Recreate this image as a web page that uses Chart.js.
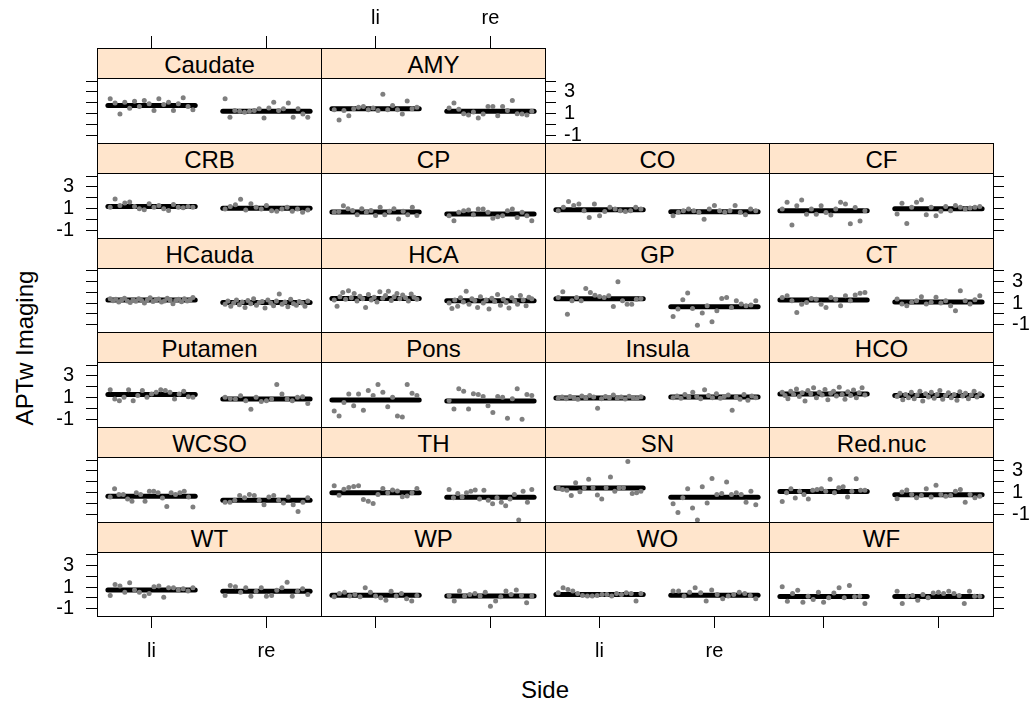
<!DOCTYPE html>
<html>
<head>
<meta charset="utf-8">
<script src="https://cdn.jsdelivr.net/npm/chart.js@4.4.1/dist/chart.umd.min.js"></script>
<style>
  body { margin: 0; width: 1036px; height: 707px; background: #fff; position: relative; overflow: hidden; font-family: "Liberation Sans", Arial, sans-serif; }
  canvas { position: absolute; }
  .strip { position: absolute; box-sizing: border-box; background: #ffe5cc; border: 1px solid #000; text-align: center; font-size: 24px; line-height: 31px; color: #000; z-index: 2; white-space: nowrap; }
  .title { position: absolute; font-size: 24px; line-height: 28px; color: #000; text-align: center; }
</style>
</head>
<body>
<div class="title" style="left:0; width:1090px; top:676px;">Side</div>
<div class="title" style="left:-125px; top:334px; width:300px; transform: rotate(-90deg);">APTw Imaging</div>
<script>
const regions = ['Caudate', 'AMY', 'CRB', 'CP', 'CO', 'CF', 'HCauda', 'HCA', 'GP', 'CT',
  'Putamen', 'Pons', 'Insula', 'HCO', 'WCSO', 'TH', 'SN', 'Red.nuc', 'WT', 'WP', 'WO', 'WF'];
const sideLabels = ['li', 're'];
const xTickValues = [1, 2];
const yTickValues = [-1, 0, 1, 2, 3, 4];
const yTickLabels = ['-1', '', '1', '', '3', ''];

const liMeans = [1.75, 1.44, 1.2, 0.7, 0.9, 0.8, 1.28, 1.44, 1.4, 1.28, 1.28, 0.78, 0.97, 1.34, 0.67, 1.0, 1.42, 1.1, 0.72, 0.25, 0.31, 0.12];
const reMeans = [1.22, 1.22, 1.03, 0.5, 0.72, 1.0, 1.06, 1.22, 0.66, 1.1, 0.87, 0.7, 1.06, 1.2, 0.3, 0.58, 0.58, 0.8, 0.62, 0.16, 0.25, 0.12];

const liPoints = [
  [2.37, 1.97, 0.97, 2.06, 1.5, 2.15, 1.65, 2.22, 1.91, 1.28, 2.37, 1.85, 2.06, 1.28, 1.91, 2.47, 1.65, 1.35],
  [1.35, 0.41, 1.28, 0.81, 1.44, 1.6, 1.66, 1.35, 1.53, 1.28, 2.78, 1.35, 1.75, 1.35, 0.97, 2.17, 1.44, 1.6],
  [1.14, 1.89, 1.29, 1.51, 1.61, 1.2, 0.98, 0.89, 1.45, 1.14, 1.29, 0.98, 0.82, 1.39, 1.14, 1.08, 1.2, 1.14],
  [0.67, 0.73, 1.26, 0.98, 0.82, 0.45, 0.98, 0.67, 0.82, 0.36, 1.14, 0.45, 0.76, 0.98, 0.04, 0.76, 0.45, 1.14, 0.36],
  [0.81, 1.12, 1.65, 1.28, 1.43, 0.81, 0.18, 1.43, 0.34, 0.74, 1.12, 0.96, 0.81, 0.74, 0.81, 1.12, 0.96],
  [0.96, 1.58, -0.51, 1.27, 1.8, 0.49, 0.96, 0.49, 1.27, 0.64, 0.42, 0.96, 1.58, 1.42, -0.39, 1.11, -0.14, 0.8],
  [1.4, 1.22, 1.35, 1.1, 1.3, 1.45, 1.2, 1.05, 1.32, 1.18, 1.4, 1.25, 1.0, 1.3, 1.5, 1.15, 1.28, 1.38, 1.1, 1.2, 1.45, 1.3, 0.95, 1.25, 1.35, 1.12, 1.4, 1.2, 1.3, 1.52],
  [1.3, 0.7, 1.6, 2.0, 1.35, 2.15, 1.5, 1.9, 1.2, 1.65, 1.4, 0.6, 1.8, 1.3, 1.55, 1.1, 2.05, 1.45, 1.7, 2.1, 1.25, 1.6, 1.9, 1.4, 1.75, 1.5, 1.2, 1.85, 1.55, 1.35],
  [1.52, 2.06, -0.04, 1.21, 1.52, 1.21, 2.37, 1.99, 1.74, 1.62, 1.52, 1.68, 0.68, 3.0, 1.21, 0.9, 0.9, 1.37, 1.43],
  [1.53, 1.69, 1.22, 0.12, 0.9, 1.06, 1.44, 1.37, 0.9, 0.59, 1.53, 1.37, 0.75, 1.69, 1.22, 1.75, 1.91, 2.0],
  [1.72, 0.87, 0.72, 1.03, 1.72, 0.72, 1.19, 1.66, 1.03, 1.34, 1.5, 1.72, 1.66, 1.5, 0.87, 1.34, 1.59, 1.09, 1.03],
  [-0.22, -0.69, 0.56, 1.34, 0.25, 1.34, -0.16, 1.66, 1.19, 2.22, 1.5, 0.16, 1.03, -0.69, -0.78, 2.22, 1.4, 1.19],
  [0.95, 1.05, 0.9, 1.1, 1.0, 0.85, 1.15, 0.95, 1.2, 1.05, 0.03, 0.9, 1.1, 1.0, 1.25, 0.95, 1.05, 0.88, 1.12, 1.0, 0.92, 1.08],
  [1.5, 1.2, 0.9, 1.6, 1.3, 1.8, 1.1, 1.45, 0.7, 1.65, 1.35, 1.9, 1.0, 1.5, 1.25, 1.75, 0.8, 1.4, 1.6, 1.15, 1.95, 1.3, 0.85, 1.55, 1.2, 1.7, 1.0, 1.45, 1.9, 1.25],
  [0.61, 1.36, 0.83, 0.83, 0.42, 0.2, 0.98, 0.83, 0.2, 1.14, 1.14, 0.98, 0.51, -0.27, 0.98, 0.83, 0.98, 1.14, 0.61, -0.33],
  [1.63, 0.75, 1.31, 1.47, 1.56, 1.63, 0.38, 0.22, 0.0, 0.84, 1.38, 1.0, 1.25, 1.16, 0.63, 0.69, 1.0, 1.38],
  [1.45, 1.3, 1.23, 0.73, 1.92, 1.08, 1.45, 2.23, 1.45, 0.79, 0.42, 1.45, 2.45, 1.14, 1.45, 1.45, 3.86, 0.92, 0.98, 1.14],
  [0.19, 0.98, 1.35, 0.51, 1.13, 0.82, 0.41, 1.23, 1.29, 1.35, 1.13, 2.23, 0.98, 1.44, 1.54, 0.6, 1.13, 2.29, 1.23, 1.23],
  [0.22, 1.25, 1.1, 0.53, 1.41, 0.72, 0.53, 0.16, 0.41, 1.03, 1.1, 0.06, 0.94, 0.94, 0.72, 0.85, 0.63, 0.94],
  [0.09, 0.41, 0.53, 0.16, 0.31, 0.09, 0.94, 0.53, 0.16, 0.0, -0.22, 0.62, 0.16, 0.41, -0.09, -0.31, 0.22],
  [0.47, 0.94, 0.78, 0.63, 0.41, 0.22, 0.16, 0.16, 0.22, 0.31, 0.31, 0.16, 0.41, 0.31, 0.47, 0.41, -0.31, 0.41],
  [1.03, -0.32, 0.4, 0.71, -0.41, 0.15, -0.16, 0.53, -0.41, 0.0, 0.46, 0.93, 0.0, 1.15, 0.09, 0.15, -0.54]
];

const rePoints = [
  [2.37, 0.66, 1.28, 1.22, 1.13, 1.22, 1.28, 1.44, 0.6, 1.53, 2.06, 1.28, 1.44, 1.97, 0.66, 1.44, 0.97, 0.66],
  [1.53, 1.97, 1.41, 1.0, 0.88, 1.16, 0.6, 0.97, 1.66, 1.66, 0.81, 1.66, 1.28, 2.22, 1.0, 0.97, 0.88, 1.22],
  [0.97, 1.19, 1.37, 1.87, 0.87, 1.44, 1.12, 0.97, 1.28, 0.81, 0.75, 0.97, 1.12, 0.75, 0.97, 0.66, 0.87],
  [0.34, -0.12, 0.66, 0.81, 0.87, 0.44, 0.97, 0.97, 0.66, 0.12, 0.25, 0.34, 0.81, 0.97, 0.19, 0.66, 0.34, -0.12],
  [0.35, 0.66, 0.81, 0.97, 0.81, 0.66, 0.03, 0.97, 1.28, 0.81, 0.66, 0.81, 1.28, 0.66, 0.44, 0.97, 0.81],
  [0.5, 1.5, -0.37, 1.12, 1.6, 1.81, 0.44, 1.12, 0.34, 0.75, 1.19, 0.81, 1.28, 1.12, 0.97, 1.06, 1.12, 1.19],
  [0.9, 1.2, 0.7, 1.0, 1.3, 0.85, 1.1, 0.6, 1.25, 0.95, 1.4, 0.8, 1.05, 1.15, 0.55, 1.3, 1.0, 0.75, 1.2, 1.85, 0.9, 1.1, 0.65, 1.35, 0.95, 0.8, 1.15, 1.0, 0.7, 1.2],
  [1.0, 0.5, 1.3, 0.7, 1.5, 1.1, 2.1, 0.9, 1.4, 1.25, 0.6, 1.6, 1.0, 1.3, 0.45, 1.45, 1.15, 1.8, 0.8, 1.35, 1.05, 0.55, 1.5, 1.2, 0.9, 1.7, 1.3, 0.75, 1.55, 1.4],
  [-0.25, 0.44, 1.32, 1.94, 0.5, -1.06, 0.07, 0.75, -0.75, 0.28, 1.44, 1.53, 0.6, 1.22, 0.91, 0.75, 0.82, 1.22],
  [1.38, 0.91, 0.76, 1.07, 1.22, 1.6, 0.91, 1.07, 1.54, 1.0, 1.22, 0.76, 0.29, 2.16, 1.22, 0.91, 1.32, 1.69],
  [1.03, 0.93, 0.87, 1.18, 0.71, -0.07, 1.03, 0.65, 0.71, 0.87, 2.21, 1.34, 0.87, 0.71, 1.03, 1.09, 0.46],
  [0.73, -0.05, 1.82, 1.6, -0.05, 1.36, 1.29, 1.11, 0.26, -0.36, 1.11, 1.04, -0.89, 0.89, 1.82, -0.99, 1.29, 1.2],
  [1.0, 1.15, 0.95, 1.3, 1.05, 1.5, 1.1, 0.9, 1.72, 1.2, 1.0, 1.35, 0.95, 1.1, 1.25, -0.16, 1.05, 0.85, 1.3, 0.75, 1.15, 1.0],
  [1.1, 1.4, 0.8, 1.3, 1.0, 1.5, 0.9, 1.25, 1.6, 0.7, 1.35, 1.05, 1.5, 0.95, 1.3, 1.65, 0.85, 1.2, 1.45, 1.0, 1.3, 0.75, 1.55, 1.15, 1.4, 0.9, 1.25, 1.6, 1.05, 1.35],
  [0.11, 0.11, 0.3, 0.74, 0.52, 0.83, 0.74, 0.3, -0.11, 0.61, 0.74, 0.3, 0.05, 0.61, -0.11, -0.73, 0.11, 0.52],
  [1.3, 0.52, 0.92, 0.61, 0.99, 1.14, 1.24, 0.42, 1.21, 0.3, -0.01, 0.52, 0.11, -0.2, 0.42, 0.83, -1.51, 1.14, 0.11, 1.3],
  [-0.01, -0.83, 0.52, 1.36, -0.42, -1.51, 1.55, 0.05, 2.3, 0.83, 0.92, 1.99, 0.83, 0.99, 0.83, 0.11, 1.14, -0.11],
  [0.43, 1.05, 1.24, 0.83, 0.52, 0.74, 1.36, 0.61, 1.68, 0.83, 0.68, 0.74, 1.14, 1.3, 0.11, 0.83, 0.52, 0.68],
  [0.21, 1.15, 1.03, 0.53, 0.93, 0.15, 0.62, 0.93, 0.15, 0.21, 0.71, 0.93, 1.46, 0.15, 0.62, 0.84, 0.31],
  [0.22, -0.31, 0.63, 0.16, 0.32, 0.41, 0.16, 0.53, -0.78, -0.31, 0.1, 0.63, 0.32, 0.72, 0.22, -0.47, 0.16],
  [0.63, 0.63, 0.16, 0.53, 0.94, 0.47, -0.31, 0.72, 0.31, -0.09, 0.16, 0.31, 0.53, 0.41, 0.22, -0.09],
  [0.62, -0.54, 0.15, 0.21, -0.22, 0.31, 0.0, 0.46, 0.53, 0.4, 0.62, 0.4, 0.21, -0.54, 0.62, 0.15, 0.15]
];

const FONT = '"Liberation Sans", Arial, sans-serif';
const X_MIN = 0.525, X_MAX = 2.475;
const Y_MIN = -1.7, Y_MAX = 4.28;
const JITTER = 0.36, HALF_LINE = 0.38;
const ML = 70, MR = 70, MT = 80, MB = 50;
const STRIP = 30;
const colLeft = c => Math.round(97 + c * 224);
const rowTop = r => Math.round(48.3 + r * 94.7);

function jittered(values, side) {
  const n = values.length;
  return values.map((v, k) => ({ x: side - JITTER + 2 * JITTER * k / (n - 1), y: v }));
}

function axis(pos, shown, labelled, len, pad) {
  const isX = pos === 'top' || pos === 'bottom';
  return {
    type: 'linear', axis: isX ? 'x' : 'y', position: pos,
    min: isX ? X_MIN : Y_MIN, max: isX ? X_MAX : Y_MAX,
    afterBuildTicks: s => { s.ticks = (isX ? xTickValues : yTickValues).map(v => ({ value: v })); },
    afterFit: s => {
      if (pos === 'top') s.height = MT;
      else if (pos === 'bottom') s.height = MB;
      else if (pos === 'left') s.width = ML;
      else s.width = MR;
    },
    grid: { display: true, drawOnChartArea: false, drawTicks: true, tickLength: len, tickWidth: 1,
      color: 'rgba(0,0,0,0)', tickColor: shown ? '#000' : 'rgba(0,0,0,0)' },
    border: { display: true, color: '#000', width: 1 },
    ticks: {
      autoSkip: false, maxRotation: 0, padding: pad, color: '#000', font: { family: FONT, size: 20 },
      callback: v => {
        if (!labelled) return '';
        return isX ? sideLabels[xTickValues.indexOf(v)] : yTickLabels[yTickValues.indexOf(v)];
      }
    }
  };
}

regions.forEach((name, i) => {
  const row = i < 2 ? 0 : 1 + Math.floor((i - 2) / 4);
  const col = i < 2 ? i : (i - 2) % 4;
  const left = colLeft(col), right = colLeft(col + 1);
  const top = rowTop(row) + STRIP;
  const bottom = row === 5 ? 616 : rowTop(row + 1);
  const w = right - left, h = bottom - top;

  const strip = document.createElement('div');
  strip.className = 'strip';
  strip.style.left = left + 'px';
  strip.style.top = rowTop(row) + 'px';
  strip.style.width = (w + 1) + 'px';
  strip.style.height = (STRIP + 1) + 'px';
  strip.textContent = name;
  document.body.appendChild(strip);

  const cv = document.createElement('canvas');
  cv.width = w + ML + MR;
  cv.height = h + MT + MB;
  cv.style.left = (left - ML) + 'px';
  cv.style.top = (top - MT) + 'px';
  document.body.appendChild(cv);

  const leftShown = col === 0;
  const rightShown = (row === 0 && col === 1) || (row >= 1 && col === 3);
  const topShown = row === 0;
  const bottomShown = row === 5;

  const pts = jittered(liPoints[i], 1).concat(jittered(rePoints[i], 2));
  const meanLine = (m, side) => ({
    data: [{ x: side - HALF_LINE, y: m }, { x: side + HALF_LINE, y: m }],
    showLine: true, borderColor: '#000', borderWidth: 5, borderCapStyle: 'round',
    pointRadius: 0, order: 1
  });

  new Chart(cv, {
    type: 'scatter',
    data: {
      datasets: [
        { data: pts, pointRadius: 2.5, pointBackgroundColor: '#7f7f7f', pointBorderColor: '#7f7f7f',
          pointBorderWidth: 0, order: 0 },
        meanLine(liMeans[i], 1),
        meanLine(reMeans[i], 2)
      ]
    },
    options: {
      responsive: false, animation: false, events: [],
      layout: { padding: 0 },
      plugins: { legend: { display: false }, tooltip: { enabled: false } },
      scales: {
        x: axis('bottom', bottomShown, bottomShown && col % 2 === 0, 12, 11),
        x2: axis('top', topShown, topShown && col === 1, 42, 6),
        y: axis('left', leftShown, leftShown && row % 2 === 1, 11, 12),
        y2: axis('right', rightShown, rightShown && row % 2 === 0, 11, 8)
      }
    }
  });
});
</script>
</body>
</html>
